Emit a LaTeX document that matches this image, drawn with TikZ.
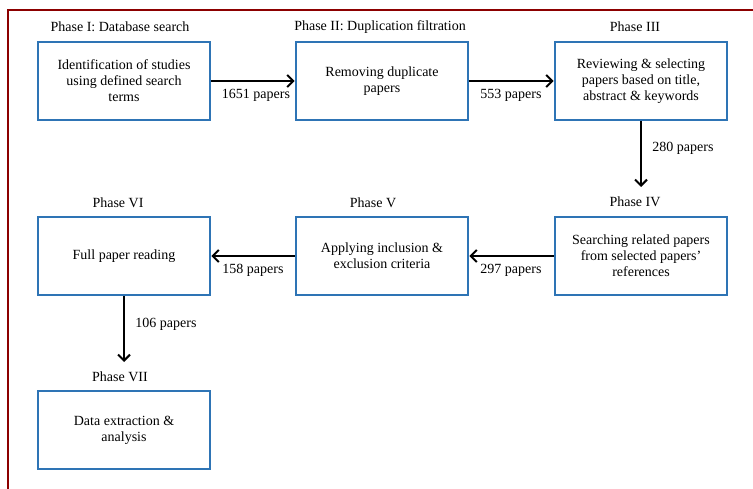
\documentclass[tikz,border=0pt]{standalone}
\usepackage{fontspec}
\setmainfont{Liberation Serif}
\usetikzlibrary{arrows.meta}
\definecolor{boxblue}{RGB}{46,116,181}
\definecolor{framered}{RGB}{140,0,0}
\begin{document}
\begin{tikzpicture}[x=1pt,y=-1pt,
  phasebox/.style={draw=boxblue, line width=2.8pt, minimum width=172pt, minimum height=78pt, align=center, font=\fontsize{14}{16}\selectfont, inner sep=2pt},
  phaselabel/.style={font=\fontsize{14}{16}\selectfont, inner sep=1pt},
  countlabel/.style={font=\fontsize{14}{16}\selectfont, inner sep=1pt},
  flow/.style={line width=1.4pt, -{Straight Barb[length=6pt,width=12pt,line width=2pt]}}]
\useasboundingbox (0,0) rectangle (753,489);
\begin{scope}
\clip (0,0) rectangle (753,489);
\draw[framered, line width=2.6pt] (8,10) rectangle (770,520);
\end{scope}
% boxes
\node[phasebox] (b1) at (124,81) {Identification of studies\\using defined search\\terms};
\node[phasebox] (b2) at (382,81) {Removing duplicate\\papers};
\node[phasebox] (b3) at (641,81) {Reviewing \& selecting\\papers based on title,\\abstract \& keywords};
\node[phasebox] (b4) at (641,256) {Searching related papers\\from selected papers'\\references};
\node[phasebox] (b5) at (382,256) {Applying inclusion \&\\exclusion criteria};
\node[phasebox] (b6) at (124,256) {Full paper reading};
\node[phasebox] (b7) at (124,430) {Data extraction \&\\analysis};
% phase labels
\node[phaselabel] (p1) at (120,27) {Phase I: Database search};
\node[phaselabel] (p2) at (380,27) {Phase II: Duplication filtration};
\node[phaselabel] (p3) at (635,27) {Phase III};
\node[phaselabel] (p4) at (635,202) {Phase IV};
\node[phaselabel] (p5) at (373,203) {Phase V};
\node[phaselabel] (p6) at (118,203) {Phase VI};
\node[phaselabel] (p7) at (120,377) {Phase VII};
% connectors
\coordinate (t34) at (641,187);
\coordinate (t67) at (124,362);
\draw[flow] (b1.east) -- (b2.west);
\draw[flow] (b2.east) -- (b3.west);
\draw[flow] (b3.south) -- (t34);
\draw[flow] (b4.west) -- (b5.east);
\draw[flow] (b5.west) -- (b6.east);
\draw[flow] (b6.south) -- (t67);
% counts
\node[countlabel] (c1) at (256,95) {1651 papers};
\node[countlabel] (c2) at (511,95) {553 papers};
\node[countlabel] (c3) at (683,148) {280 papers};
\node[countlabel] (c4) at (511,270) {297 papers};
\node[countlabel] (c5) at (253,270) {158 papers};
\node[countlabel] (c6) at (166,324) {106 papers};
\end{tikzpicture}
\end{document}
